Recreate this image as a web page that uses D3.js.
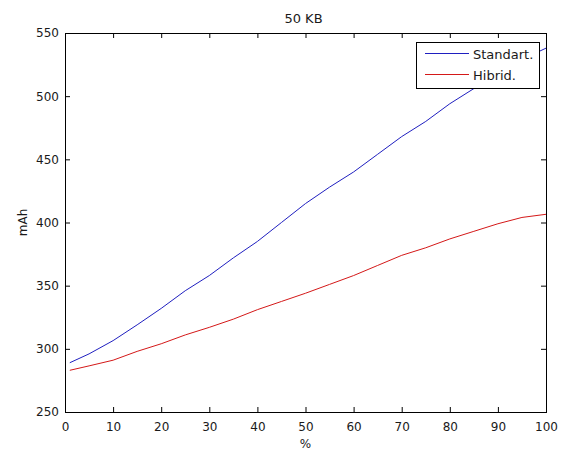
<!DOCTYPE html>
<html>
<head>
<meta charset="utf-8">
<script src="https://cdn.jsdelivr.net/npm/d3@7"></script>
<style>
  body { margin: 0; background: #fff; }
  svg text { font-family: "DejaVu Sans", sans-serif; fill: #1a1a1a; }
</style>
</head>
<body>
<svg width="569" height="453"></svg>
<script>
"use strict";
// values
var percent = [1, 5, 10, 15, 20, 25, 30, 35, 40, 45, 50, 55, 60, 65, 70, 75, 80, 85, 90, 95, 100];
var standart = [289, 296, 306.5, 319, 332, 346, 358, 372, 385, 400, 415, 428, 440, 454, 468, 480, 494, 506, 518, 529, 538];
var hibrid = [283, 286.5, 291, 298, 304, 311, 317, 323.5, 331, 337.5, 344, 351, 358, 366, 374, 380, 387, 393, 399, 404, 406.5];
var xTicks = [0, 10, 20, 30, 40, 50, 60, 70, 80, 90, 100];
var yTicks = [250, 300, 350, 400, 450, 500, 550];
var seriesNames = ["Standart.", "Hibrid."];
var seriesColors = ["#1f1fc0", "#d41818"];

var svg = d3.select("svg"),
    margin = { top: 33, right: 23, bottom: 41, left: 65 },
    width = +svg.attr("width") - margin.left - margin.right,
    height = +svg.attr("height") - margin.top - margin.bottom;

var x = d3.scaleLinear().domain([0, 100]).range([0, width]),
    y = d3.scaleLinear().domain([250, 550]).range([height, 0]);

var g = svg.append("g")
    .attr("transform", "translate(" + margin.left + "," + margin.top + ")");

// axes with inward ticks on all four sides (box style)
function styleAxis(sel) {
    sel.select(".domain").remove();
    sel.selectAll("line").attr("stroke", "#000");
    sel.selectAll("text").attr("font-size", 12).attr("fill", "#1a1a1a");
}

g.append("g")
    .attr("transform", "translate(0," + height + ")")
    .call(d3.axisBottom(x).tickValues(xTicks).tickSizeInner(-5).tickSizeOuter(0).tickPadding(10))
    .call(styleAxis);

g.append("g")
    .call(d3.axisTop(x).tickValues(xTicks).tickSizeInner(-5).tickSizeOuter(0).tickFormat(""))
    .call(styleAxis);

g.append("g")
    .call(d3.axisLeft(y).tickValues(yTicks).tickSizeInner(-5).tickSizeOuter(0).tickPadding(6))
    .call(styleAxis);

g.append("g")
    .attr("transform", "translate(" + width + ",0)")
    .call(d3.axisRight(y).tickValues(yTicks).tickSizeInner(-5).tickSizeOuter(0).tickFormat(""))
    .call(styleAxis);

g.append("rect")
    .attr("width", width)
    .attr("height", height)
    .attr("fill", "none")
    .attr("stroke", "#000")
    .attr("shape-rendering", "crispEdges");

var line = d3.line()
    .x(function (d) { return x(d[0]); })
    .y(function (d) { return y(d[1]); });

[standart, hibrid].forEach(function (vals, i) {
    g.append("path")
        .datum(percent.map(function (p, j) { return [p, vals[j]]; }))
        .attr("fill", "none")
        .attr("stroke", seriesColors[i])
        .attr("stroke-width", 1)
        .attr("d", line);
});

// legend
var legend = g.append("g").attr("transform", "translate(" + (width - 130) + ",9)");
legend.append("rect")
    .attr("width", 123)
    .attr("height", 46)
    .attr("fill", "#fff")
    .attr("stroke", "#000")
    .attr("shape-rendering", "crispEdges");
seriesNames.forEach(function (name, i) {
    var ly = 11.5 + i * 21;
    legend.append("line")
        .attr("x1", 9).attr("x2", 53)
        .attr("y1", ly).attr("y2", ly)
        .attr("stroke", seriesColors[i]);
    legend.append("text")
        .attr("x", 57).attr("y", ly + 5)
        .attr("font-size", 13)
        .text(name);
});

// titles
svg.append("text")
    .attr("x", margin.left + width / 2 - 2)
    .attr("y", 23)
    .attr("text-anchor", "middle")
    .attr("font-size", 13)
    .text("50 KB");

svg.append("text")
    .attr("x", margin.left + width / 2)
    .attr("y", 448)
    .attr("text-anchor", "middle")
    .attr("font-size", 12)
    .text("%");

svg.append("text")
    .attr("transform", "translate(27," + (margin.top + height / 2) + ") rotate(-90)")
    .attr("text-anchor", "middle")
    .attr("font-size", 12)
    .text("mAh");
</script>
</body>
</html>
